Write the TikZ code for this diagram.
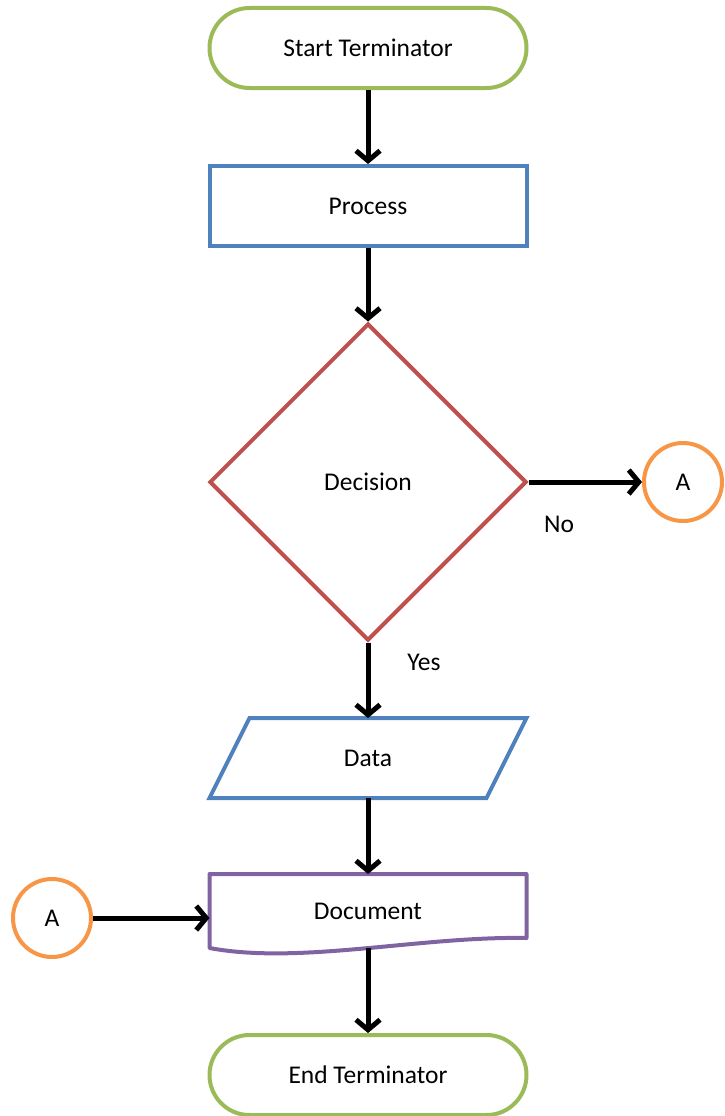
\documentclass[tikz,border=0pt]{standalone}
\usepackage{fontspec}
\setmainfont{Carlito}
\usepackage{tikz}
\usetikzlibrary{shapes.geometric, arrows.meta, calc}

\definecolor{termgreen}{HTML}{9BBB59}
\definecolor{procblue}{HTML}{4F81BD}
\definecolor{decred}{HTML}{C0504D}
\definecolor{conorange}{HTML}{F79646}
\definecolor{docpurple}{HTML}{8064A2}

\begin{document}
\begin{tikzpicture}[x=1pt, y=-1pt,
				font=\fontsize{25.5}{30}\selectfont]
					\tikzstyle{terminator}=[rectangle, rounded corners=40pt, minimum width=317pt, minimum height=80pt, text centered, draw=termgreen, line width=4pt]
					\tikzstyle{process}=[rectangle, minimum width=317pt, minimum height=80pt, text centered, draw=procblue, line width=4pt]
					\tikzstyle{decision}=[diamond, aspect=1, inner sep=0pt, minimum width=317pt, minimum height=317pt, text centered, draw=decred, line width=4pt]
					\tikzstyle{connector}=[circle, minimum size=78pt, inner sep=0pt, draw=conorange, line width=4pt]
					\tikzstyle{plain}=[rectangle, minimum width=317pt, outer sep=0pt]
					\tikzstyle{arrow}=[line width=5pt, -{Straight Barb[length=10pt, width=24pt]}]
					\useasboundingbox (0,0) rectangle (725,1116);
					% shapes
					\node[terminator] (start) at (368,48) {Start Terminator};
					\node[process] (proc) at (368,206) {Process};
					\node[decision] (dec) at (368,482) {Decision};
					\node[connector] (aout) at (683,482) {A};
					\node[plain, minimum height=80pt] (data) at (368,758) {Data};
					\node[plain, minimum height=74pt] (doc) at (368,911) {Document};
					\node[connector] (ain) at (52,918) {A};
					\node[terminator] (stop) at (368,1075) {End Terminator};
					\node (no) at (559,524) {No};
					\node (yes) at (424,662) {Yes};
					% data and document outlines
					\draw[procblue, line width=4pt, line join=miter]
						($(data.north west)+(40,0)$) -- (data.north east) -- ($(data.south east)+(-40,0)$) -- (data.south west) -- cycle;
					\draw[docpurple, line width=4pt, line join=round]
						(doc.south west) -- (doc.north west) -- (doc.north east) -- ($(doc.south east)+(0,-10)$)
						.. controls (420,936) and (300,965) .. (doc.south west) -- cycle;
					% arrows
					\draw[arrow] (start) -- (proc);
					\draw[arrow] (proc) -- (dec);
					\draw[arrow] (dec.east) -- (aout);
					\draw[arrow] (dec.south) -- (data.north);
					\draw[arrow] (data.south) -- (doc.north);
					\draw[arrow] (ain) -- (ain -| doc.west);
					\draw[arrow] (doc.south) -- (stop.north);
				\end{tikzpicture}
\end{document}
